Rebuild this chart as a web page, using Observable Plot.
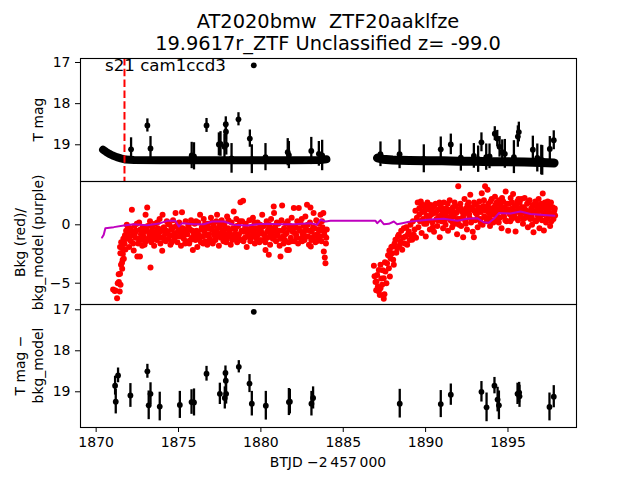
<!DOCTYPE html>
<html><head><meta charset="utf-8">
<script src="https://cdn.jsdelivr.net/npm/d3@7"></script>
<script src="https://cdn.jsdelivr.net/npm/@observablehq/plot@0.6"></script>
<style>
body{margin:0;background:#fff;}
#wrap{position:relative;width:640px;height:480px;overflow:hidden;font-family:"DejaVu Sans",sans-serif;color:#000;background:#fff;}
#wrap svg{position:absolute;left:0;top:0;}
</style></head><body><div id="wrap"></div>
<script>
// ---------- text ----------
const titleLines = ["AT2020bmw  ZTF20aaklfze", "19.9617r_ZTF Unclassified z= -99.0"];
const annotation = "s21 cam1ccd3";
const yLabel1 = ["T mag"];
const yLabel2 = ["Bkg (red)/", "bkg_model (purple)"];
const yLabel3 = ["T mag \u2212", "bkg_model"];
const xLabel = "BTJD \u22122\u2009457\u2009000";
const xTicks = [1870, 1875, 1880, 1885, 1890, 1895];
const magTicks = [17, 18, 19];
const bkgTicks = [-5, 0];
const refTime = [1871.72];

// ---------- panel 1: light curve (dense band of non-detections + points) ----------
const band1 = [[1870.42,19.12],[1870.6,19.17],[1870.8,19.22],[1871.0,19.26],[1871.25,19.3],[1871.5,19.33],[1871.8,19.36],[1872.3,19.37],[1874,19.375],[1876,19.375],[1878,19.375],[1880,19.375],[1882,19.375],[1883.6,19.37],[1883.98,19.35]];
const band2 = [[1887.08,19.32],[1887.4,19.35],[1888,19.37],[1889,19.38],[1890,19.39],[1891,19.39],[1892,19.4],[1893,19.4],[1894,19.41],[1895,19.41],[1896,19.42],[1897,19.43],[1897.8,19.44]];
// [time, mag, err]
const lcPoints = [
[1872.12,19.11,0.28],[1873.11,18.53,0.16],[1873.30,19.09,0.29],[1875.80,19.26,0.32],[1875.94,19.28,0.33],
[1876.70,18.53,0.17],[1877.45,18.99,0.28],[1877.55,18.98,0.30],[1877.79,19.05,0.30],[1877.87,18.50,0.18],
[1877.88,18.68,0.20],[1877.90,19.00,0.25],[1878.22,19.33,0.36],[1878.64,18.38,0.16],[1879.33,18.85,0.21],
[1879.45,19.35,0.35],[1879.57,17.07,0.03],[1880.28,19.30,0.33],[1881.63,19.18,0.33],[1881.70,19.25,0.33],
[1883.06,19.15,0.33],[1883.52,19.22,0.30],[1883.72,19.26,0.37],[1887.26,19.23,0.30],[1888.42,19.23,0.35],
[1889.89,19.34,0.34],[1890.92,19.11,0.30],[1891.53,18.99,0.25],[1892.14,19.31,0.33],[1892.93,19.27,0.30],
[1893.19,19.35,0.32],[1893.39,18.94,0.23],[1893.68,19.30,0.32],[1893.88,19.28,0.30],[1894.20,18.73,0.17],
[1894.35,18.85,0.20],[1894.49,19.05,0.25],[1894.65,19.18,0.30],[1894.81,19.22,0.35],[1895.36,19.30,0.40],
[1895.60,18.80,0.26],[1895.66,18.69,0.24],[1896.51,19.12,0.33],[1896.78,19.32,0.34],[1897.02,19.37,0.36],
[1897.08,19.38,0.36],[1897.54,19.10,0.30],[1897.78,18.89,0.23]
];

// ---------- panel 3: T mag - bkg_model ----------
const diffPoints = [
[1871.15,18.85,0.23],[1871.19,19.24,0.30],[1871.33,18.60,0.18],[1872.08,19.09,0.29],[1873.11,18.50,0.17],
[1873.19,19.33,0.35],[1873.30,19.05,0.27],[1873.86,19.36,0.35],[1875.08,19.32,0.33],[1875.79,19.25,0.30],
[1875.94,19.26,0.33],[1876.70,18.56,0.18],[1877.51,19.05,0.26],[1877.81,19.15,0.27],[1877.85,18.54,0.17],
[1877.87,18.73,0.20],[1877.89,19.05,0.25],[1878.66,18.39,0.15],[1879.31,18.80,0.22],[1879.45,19.29,0.30],
[1879.57,17.05,0.03],[1880.30,19.34,0.35],[1881.70,19.25,0.33],[1881.76,19.24,0.30],[1883.07,19.29,0.30],
[1883.17,19.15,0.27],[1888.43,19.29,0.35],[1890.92,19.30,0.33],[1891.53,19.07,0.26],[1893.39,19.00,0.25],
[1893.70,19.38,0.35],[1894.18,18.85,0.20],[1894.37,19.19,0.30],[1894.45,19.33,0.35],[1895.58,19.05,0.26],
[1895.68,19.02,0.25],[1895.70,19.11,0.27],[1897.52,19.37,0.34],[1897.78,19.12,0.27]
];

// ---------- panel 2: background (red) ----------
const bkgRise1 = [[1871.03,-5.55],[1871.13,-5.66],[1871.17,-5.63],[1871.27,-6.29],[1871.31,-5.0],[1871.37,-4.23],[1871.38,-4.9],[1871.43,-5.72],[1871.45,-4.2],[1871.47,-2.43],[1871.48,-5.14],[1871.45,-1.9],[1871.51,-3.43],[1871.52,-1.5],[1871.57,-3.26],[1871.58,-3.77],[1871.59,-2.0],[1871.61,-3.0],[1871.62,-2.49],[1871.65,-1.2],[1871.68,-2.91],[1871.70,-1.57],[1871.72,-1.63],[1871.75,-0.9],[1871.78,-2.12],[1871.82,-0.5],[1871.86,0.0],[1871.98,-1.06]];
const bkgOrbit1 = [
[1871.90,-1.2],[1871.95,-0.6],[1872.00,-1.9],[1872.06,-0.3],[1872.11,-1.4],[1872.17,1.28],[1872.22,-0.9],[1872.28,-2.2],[1872.33,-0.1],[1872.39,-1.1],
[1872.44,-0.5],[1872.50,-2.72],[1872.55,-1.6],[1872.61,0.2],[1872.66,-2.72],[1872.72,-0.8],[1872.77,-1.3],[1872.83,-0.2],[1872.88,-1.0],[1872.94,-1.7],
[1873.00,0.86],[1873.05,-0.4],[1873.10,1.48],[1873.16,-1.2],[1873.21,-0.7],[1873.27,0.3],[1873.30,-3.66],[1873.35,-1.5],[1873.41,-0.2],[1873.46,-0.9],
[1873.52,-1.8],[1873.57,0.1],[1873.63,-0.6],[1873.68,-1.3],[1873.74,-0.3],[1873.79,-1.0],[1873.85,0.5],[1873.90,-1.6],[1873.96,-0.5],[1874.01,-2.23],
[1874.03,0.86],[1874.07,-1.1],[1874.12,-0.2],[1874.18,-0.8],[1874.23,-1.4],[1874.29,0.3],[1874.34,-0.6],[1874.40,-1.2],[1874.45,0.0],[1874.51,-1.7],
[1874.56,-0.4],[1874.62,-0.9],[1874.67,0.4],[1874.73,-1.3],[1874.78,-0.7],[1874.82,1.0],[1874.88,-0.1],[1874.93,-1.5],[1874.99,-0.5],[1875.04,0.2],
[1875.10,-1.0],[1875.15,-1.8],[1875.21,1.08],[1875.26,-0.3],[1875.32,-1.2],[1875.37,-0.6],[1875.43,0.3],[1875.48,-1.4],[1875.54,-0.8],[1875.59,-0.1],
[1875.65,-1.6],[1875.70,-0.4],[1875.76,0.4],[1875.81,-1.1],[1875.87,-2.15],[1875.92,-0.7],[1875.98,0.1],[1876.03,-1.3],[1876.09,-0.5],[1876.14,-1.9],
[1876.20,0.2],[1876.25,-0.9],[1876.31,0.86],[1876.36,-1.5],[1876.42,-0.2],[1876.47,-1.0],[1876.53,0.5],[1876.58,-0.6],[1876.64,-1.4],[1876.69,-0.3],
[1876.75,-1.7],[1876.80,0.1],[1876.86,-0.8],[1876.91,-1.2],[1876.97,0.6],[1877.02,-0.4],[1877.08,-1.6],[1877.13,-0.1],[1877.19,-0.9],[1877.24,-1.3],
[1877.30,0.3],[1877.34,0.86],[1877.40,-0.7],[1877.45,-1.8],[1877.51,-0.2],[1877.56,-1.1],[1877.62,0.4],[1877.67,-0.5],[1877.73,-1.4],[1877.78,0.0],
[1877.84,-0.8],[1877.89,-1.5],[1877.95,0.7],[1878.00,-0.3],[1878.06,-1.0],[1878.11,-0.6],[1878.17,-1.7],[1878.22,0.2],[1878.28,-0.9],[1878.35,1.14],
[1878.40,-1.2],[1878.45,-0.4],[1878.51,0.5],[1878.56,-1.5],[1878.62,-0.1],[1878.67,-0.8],[1878.76,1.94],[1878.80,-1.3],[1878.86,0.3],[1878.92,2.05],
[1878.97,-0.6],[1879.03,-1.1],[1879.08,0.1],[1879.14,-1.9],[1879.19,-0.5],[1879.25,-0.9],[1879.30,0.4],[1879.36,-1.4],[1879.41,-0.2],[1879.47,-1.0],
[1879.52,0.6],[1879.58,-0.7],[1879.63,-1.6],[1879.69,-0.3],[1879.74,-1.2],[1879.80,0.2],[1879.85,-0.8],[1879.91,-1.5],[1879.96,0.0],[1880.02,-0.6],
[1880.08,0.86],[1880.13,-1.3],[1880.19,-0.1],[1880.24,-0.9],[1880.28,-2.15],[1880.35,0.3],[1880.40,-1.1],[1880.46,-0.4],[1880.48,-2.57],[1880.56,-1.7],
[1880.62,0.5],[1880.67,-0.7],[1880.73,-1.2],[1880.78,1.57],[1880.80,1.0],[1880.86,-0.2],[1880.92,-1.4],[1880.97,0.2],[1881.03,-0.9],[1881.08,-0.5],
[1881.14,-1.8],[1881.19,-2.72],[1881.25,0.4],[1881.29,1.66],[1881.35,-1.0],[1881.41,-0.3],[1881.46,-1.3],[1881.52,0.1],[1881.57,-0.7],[1881.60,-2.15],
[1881.68,-1.5],[1881.70,-2.15],[1881.76,-0.1],[1881.82,-1.1],[1881.87,0.6],[1881.93,-0.6],[1882.00,1.43],[1882.04,-1.4],[1882.10,-0.2],[1882.15,-0.9],
[1882.21,0.3],[1882.26,-1.6],[1882.30,1.43],[1882.37,-0.5],[1882.43,-1.2],[1882.48,0.5],[1882.54,-0.8],[1882.59,-0.1],[1882.65,-1.3],[1882.70,0.7],
[1882.76,-0.4],[1882.80,1.71],[1882.87,-1.0],[1882.92,-1.7],[1882.98,0.2],[1883.01,1.48],[1883.03,-1.86],[1883.09,-0.6],[1883.14,-1.1],[1883.20,1.0],
[1883.25,-0.3],[1883.31,-1.5],[1883.36,0.4],[1883.42,-0.8],[1883.47,-1.2],[1883.53,0.1],[1883.58,-0.5],[1883.62,0.86],[1883.68,-1.4],[1883.74,-0.2],
[1883.79,1.0],[1883.82,-2.29],[1883.86,-0.9],[1883.88,-2.8],[1883.92,-3.29],[1883.95,-1.6],[1884.00,-0.4]
];
const bkgOrbit1b = [
[1871.93,-0.2],[1872.04,-1.0],[1872.14,-0.5],[1872.25,-1.6],[1872.36,-0.7],[1872.47,0.1],[1872.58,-1.2],[1872.69,-0.4],[1872.80,-1.8],[1872.91,-0.6],
[1873.03,-1.4],[1873.13,-0.1],[1873.24,-1.0],[1873.38,-0.5],[1873.49,-1.2],[1873.60,-0.9],[1873.71,0.2],[1873.82,-0.7],[1873.93,-1.1],[1874.05,-0.3],
[1874.15,-1.3],[1874.26,-0.5],[1874.37,0.1],[1874.48,-0.9],[1874.59,-1.5],[1874.70,-0.2],[1874.85,-1.0],[1874.96,0.1],[1875.07,-0.6],[1875.18,-0.3],
[1875.29,-0.9],[1875.40,-1.6],[1875.51,-0.4],[1875.62,0.0],[1875.73,-1.3],[1875.84,-0.5],[1875.95,-1.0],[1876.06,0.3],[1876.17,-0.7],[1876.28,-1.2],
[1876.39,-0.4],[1876.50,-1.6],[1876.61,0.1],[1876.72,-0.9],[1876.83,-0.3],[1876.94,-1.4],[1877.05,0.2],[1877.16,-0.6],[1877.27,-1.0],[1877.37,-0.3],
[1877.48,0.1],[1877.59,-0.8],[1877.70,-1.1],[1877.81,-0.4],[1877.92,-1.2],[1878.03,0.4],[1878.14,-0.9],[1878.25,-1.3],[1878.31,-0.3],[1878.43,-0.8],
[1878.54,-0.1],[1878.65,-1.1],[1878.72,0.3],[1878.83,-0.5],[1878.94,-1.4],[1879.05,-0.2],[1879.17,-1.0],[1879.28,-0.4],[1879.39,-1.2],[1879.50,-0.6],
[1879.61,0.2],[1879.72,-0.9],[1879.83,-0.4],[1879.94,-1.3],[1880.05,-0.2],[1880.16,-0.8],[1880.27,-1.5],[1880.38,-0.6],[1880.51,0.0],[1880.60,-0.9],
[1880.70,-0.3],[1880.83,-1.0],[1880.95,-0.6],[1881.06,0.1],[1881.17,-1.2],[1881.27,-0.5],[1881.38,-1.6],[1881.49,-0.8],[1881.63,0.3],[1881.73,-0.4],
[1881.85,-1.4],[1881.96,-0.2],[1882.07,-0.7],[1882.18,-1.1],[1882.29,-0.3],[1882.40,0.2],[1882.51,-1.4],[1882.62,-0.6],[1882.73,-1.0],[1882.84,0.0],
[1882.95,-0.5],[1883.06,-1.3],[1883.17,-0.2],[1883.28,-0.9],[1883.39,-1.4],[1883.50,-0.4],[1883.61,-1.0],[1883.71,0.3],[1883.84,-0.6],[1883.97,-1.1]
];
const bkgRise2 = [
[1886.86,-3.5],[1886.90,-4.4],[1886.96,-4.9],[1887.00,-5.6],[1887.02,-4.86],[1887.06,-4.29],[1887.10,-5.3],[1887.16,-5.71],[1887.16,-3.86],[1887.22,-6.0],
[1887.26,-3.43],[1887.26,-5.43],[1887.31,-4.6],[1887.36,-5.14],[1887.40,-3.9],[1887.46,-6.34],[1887.46,-4.57],[1887.50,-5.94],[1887.53,-3.2],[1887.56,-4.0],
[1887.62,-5.0],[1887.66,-3.29],[1887.72,-2.6],[1887.77,-3.71],[1887.80,-2.2],[1887.83,-4.43],[1887.87,-2.86],[1887.92,-1.9],[1887.97,-2.43],[1887.99,-1.86],
[1888.03,-3.0],[1888.07,-3.43],[1888.12,-1.6],[1888.17,-1.29],[1888.22,-2.4],[1888.27,-2.0],[1888.32,-1.0],[1888.37,-0.86],[1888.42,-1.8],[1888.47,-1.43],
[1888.52,-0.5],[1888.58,-2.14],[1888.63,-1.1],[1888.68,-0.29],[1888.73,-1.6],[1888.78,-1.0],[1888.83,-0.2],[1888.88,-1.71],[1888.93,-0.8],[1888.98,-0.57],
[1889.03,-1.3],[1889.08,0.0],[1889.13,-0.9],[1889.18,-1.29],[1889.23,0.3],[1889.28,-0.86],[1889.33,-0.4],[1889.38,1.2],[1889.42,-1.1],[1889.47,0.6],
[1889.52,1.9],[1889.56,-0.2]
];
const bkgOrbit2 = [
[1889.61,1.4],[1889.66,0.3],[1889.71,2.0],[1889.76,-0.7],[1889.81,1.1],[1889.86,1.7],[1889.91,0.1],[1889.96,1.5],[1890.01,-1.0],[1890.06,0.8],
[1890.11,1.9],[1890.16,0.4],[1890.21,1.3],[1890.26,-0.4],[1890.31,1.7],[1890.36,0.9],[1890.41,0.2],[1890.46,1.5],[1890.51,-0.6],[1890.56,1.0],
[1890.61,1.8],[1890.66,0.5],[1890.71,-0.1],[1890.76,1.3],[1890.81,0.7],[1890.86,-1.06],[1890.91,1.6],[1890.96,0.3],[1891.01,1.1],[1891.06,-0.3],
[1891.11,1.9],[1891.16,0.8],[1891.21,0.0],[1891.26,1.4],[1891.31,0.6],[1891.36,-0.5],[1891.41,1.2],[1891.46,2.1],[1891.51,0.4],[1891.56,0.9],
[1891.61,-0.2],[1891.66,1.5],[1891.71,0.7],[1891.76,1.9],[1891.81,0.1],[1891.86,1.0],[1891.91,-0.8],[1891.98,3.3],[1892.01,1.3],[1892.06,0.5],
[1892.11,1.8],[1892.16,-0.1],[1892.21,1.1],[1892.28,-1.06],[1892.31,0.8],[1892.36,2.2],[1892.41,0.3],[1892.46,1.4],[1892.51,-0.4],[1892.56,1.0],
[1892.61,1.9],[1892.66,0.6],[1892.71,2.57],[1892.76,0.2],[1892.81,1.5],[1892.86,-0.6],[1892.93,-1.06],[1892.96,1.2],[1893.01,0.4],[1893.06,1.7],
[1893.11,0.9],[1893.16,-0.2],[1893.21,1.3],[1893.26,2.0],[1893.31,0.5],[1893.36,1.1],[1893.41,2.71],[1893.46,0.0],[1893.51,1.6],[1893.56,0.7],
[1893.61,3.3],[1893.66,1.2],[1893.71,0.3],[1893.76,3.0],[1893.81,1.8],[1893.86,0.6],[1893.91,-0.1],[1893.96,1.4],[1894.01,2.2],[1894.06,0.9],
[1894.11,0.2],[1894.16,1.5],[1894.21,2.4],[1894.26,0.8],[1894.31,1.9],[1894.36,0.4],[1894.41,1.3],[1894.46,2.1],[1894.51,0.6],[1894.56,1.7],
[1894.61,-0.3],[1894.66,1.1],[1894.71,2.0],[1894.76,0.7],[1894.81,1.5],[1894.86,2.86],[1894.91,0.3],[1894.96,1.2],[1895.01,-0.51],[1895.06,1.8],
[1895.11,0.9],[1895.16,2.3],[1895.21,0.5],[1895.26,1.4],[1895.31,2.63],[1895.36,0.8],[1895.41,1.6],[1895.46,-0.57],[1895.51,1.1],[1895.56,2.0],
[1895.61,0.4],[1895.66,1.3],[1895.71,1.9],[1895.76,0.7],[1895.81,2.2],[1895.86,1.0],[1895.91,0.1],[1895.96,1.5],[1896.01,2.3],[1896.06,0.6],
[1896.11,1.2],[1896.16,1.8],[1896.21,-0.2],[1896.26,1.0],[1896.31,2.1],[1896.36,0.5],[1896.41,1.4],[1896.46,0.0],[1896.51,1.7],[1896.55,-0.63],
[1896.61,1.1],[1896.66,2.0],[1896.71,0.3],[1896.76,1.5],[1896.81,0.8],[1896.86,2.2],[1896.91,-0.3],[1896.96,1.2],[1897.01,1.8],[1897.06,0.4],
[1897.11,2.67],[1897.18,-0.49],[1897.21,1.0],[1897.26,1.6],[1897.31,0.2],[1897.36,1.3],[1897.41,2.0],[1897.46,0.7],[1897.51,1.4],[1897.56,-0.1],
[1897.61,1.9],[1897.66,0.9],[1897.71,1.5],[1897.76,0.5],[1897.81,1.2],[1897.86,0.8]
];
const bkgOrbit2b = [
[1889.63,0.9],[1889.74,1.6],[1889.84,0.5],[1889.94,1.2],[1890.04,0.1],[1890.14,1.5],[1890.24,0.7],[1890.34,1.2],[1890.44,-0.2],[1890.54,1.7],
[1890.64,1.1],[1890.74,0.4],[1890.84,1.9],[1890.94,0.8],[1891.04,1.4],[1891.14,0.3],[1891.24,1.0],[1891.34,1.8],[1891.44,0.6],[1891.54,1.3],
[1891.64,0.2],[1891.74,1.1],[1891.84,1.6],[1891.94,0.5],[1892.04,0.0],[1892.14,1.4],[1892.24,0.6],[1892.34,1.2],[1892.44,0.1],[1892.54,1.7],
[1892.64,0.9],[1892.74,1.3],[1892.84,0.4],[1892.94,1.9],[1893.04,1.0],[1893.14,0.5],[1893.24,1.5],[1893.34,0.2],[1893.44,1.3],[1893.54,2.1],
[1893.64,0.6],[1893.74,1.4],[1893.84,1.0],[1893.94,2.0],[1894.04,0.4],[1894.14,1.2],[1894.24,1.7],[1894.34,1.0],[1894.44,0.2],[1894.54,1.4],
[1894.64,2.3],[1894.74,1.0],[1894.84,0.4],[1894.94,1.8],[1895.04,1.3],[1895.14,0.3],[1895.24,1.9],[1895.34,1.2],[1895.44,0.6],[1895.54,1.6],
[1895.64,2.2],[1895.74,1.0],[1895.84,1.5],[1895.94,0.5],[1896.04,1.3],[1896.14,0.8],[1896.24,1.9],[1896.34,1.1],[1896.44,0.7],[1896.54,1.6],
[1896.64,0.4],[1896.74,1.2],[1896.84,1.7],[1896.94,0.6],[1897.04,1.4],[1897.14,0.9],[1897.24,1.9],[1897.34,0.5],[1897.44,1.1],[1897.54,1.7],
[1897.64,0.3],[1897.74,1.0],[1897.84,1.4]
];
// background model (purple)
const bkgModel = [
[1870.36,-1.09],[1870.46,-0.86],[1870.56,-0.29],[1871.07,-0.2],[1871.68,-0.06],[1872.28,0.05],[1873.1,-0.03],[1873.9,0.14],[1874.31,0.34],[1874.81,0.34],
[1875.02,-0.15],[1875.22,0.14],[1875.93,0.05],[1876.53,0.05],[1877.04,0.28],[1877.75,0.28],[1878.35,0.0],[1879.17,-0.06],[1879.78,0.05],[1880.38,0.08],
[1881.19,0.05],[1882.0,0.05],[1883.01,0.14],[1883.42,0.0],[1883.62,0.43],[1883.92,0.28],[1884.23,0.34],[1886.96,0.34],[1887.06,0.14],[1887.26,0.4],
[1887.46,0.05],[1887.77,0.08],[1888.07,0.28],[1888.27,0.05],[1888.58,0.14],[1889.08,0.28],[1889.69,0.37],[1890.3,0.46],[1891.1,0.51],[1891.92,0.34],
[1892.53,0.51],[1893.13,0.57],[1893.53,0.22],[1893.84,0.17],[1894.14,0.51],[1894.45,1.0],[1895.16,0.97],[1895.76,1.14],[1896.37,0.92],[1896.97,0.86],
[1897.82,0.77]
];

// ---------- drawing ----------
const W = 640, H = 480;
const xDomain = [1869.05, 1899.16];
const font = '"DejaVu Sans", sans-serif';
const style = {fontFamily: font, fontSize: "14px", overflow: "visible", background: "transparent", color: "black"};
const wrap = document.getElementById("wrap");

function errorMarks(rows) {
  return [
    Plot.ruleX(rows, {x: d => d[0], y1: d => d[1] - d[2], y2: d => d[1] + d[2], stroke: "black", strokeWidth: 2.3}),
    Plot.dot(rows, {x: d => d[0], y: d => d[1], r: 2.9, fill: "black", stroke: "none"})
  ];
}
const yAxis = ticks => Plot.axisY({ticks, tickSize: 5, tickPadding: 5, label: null, fontSize: 14, tickFormat: d3.format("")});

// panel 1
wrap.appendChild(Plot.plot({
  width: W, height: H, marginLeft: 80, marginRight: 64, marginTop: 58, marginBottom: H - 181,
  x: {domain: xDomain, axis: null},
  y: {domain: [16.903, 19.892], reverse: true},
  style,
  marks: [
    Plot.line(band1, {x: d => d[0], y: d => d[1], stroke: "black", strokeWidth: 8, strokeLinecap: "round", strokeLinejoin: "round"}),
    Plot.line(band2, {x: d => d[0], y: d => d[1], stroke: "black", strokeWidth: 9, strokeLinecap: "round", strokeLinejoin: "round"}),
    ...errorMarks(lcPoints),
    Plot.ruleX(refTime, {x: d => d, stroke: "red", strokeWidth: 2, strokeDasharray: "7.5,3.3"}),
    yAxis(magTicks),
    Plot.frame({stroke: "black", strokeWidth: 1.1})
  ]
}));

// panel 2
const bkgAll = [...bkgRise1, ...bkgOrbit1, ...bkgOrbit1b, ...bkgRise2, ...bkgOrbit2, ...bkgOrbit2b];
wrap.appendChild(Plot.plot({
  width: W, height: H, marginLeft: 80, marginRight: 64, marginTop: 181, marginBottom: H - 304,
  x: {domain: xDomain, axis: null},
  y: {domain: [-6.824, 3.707]},
  style,
  marks: [
    Plot.dot(bkgAll, {x: d => d[0], y: d => d[1], r: 3, fill: "red", stroke: "none"}),
    Plot.line(bkgModel, {x: d => d[0], y: d => d[1], stroke: "#bf00bf", strokeWidth: 2}),
    yAxis(bkgTicks),
    Plot.frame({stroke: "black", strokeWidth: 1.1})
  ]
}));

// panel 3
wrap.appendChild(Plot.plot({
  width: W, height: H, marginLeft: 80, marginRight: 64, marginTop: 304, marginBottom: H - 427,
  x: {domain: xDomain},
  y: {domain: [16.871, 19.871], reverse: true},
  style,
  marks: [
    ...errorMarks(diffPoints),
    yAxis(magTicks),
    Plot.axisX({ticks: xTicks, tickSize: 5, tickPadding: 5, label: null, fontSize: 14, tickFormat: d => String(d)}),
    Plot.frame({stroke: "black", strokeWidth: 1.1})
  ]
}));

// text overlay: titles, annotation, axis labels
const ov = d3.select(wrap).append("svg").attr("width", W).attr("height", H)
  .style("font-family", font).style("overflow", "visible");
ov.selectAll("text.title").data(titleLines).join("text")
  .attr("x", 328).attr("y", (d, i) => 27.5 + i * 22.5)
  .attr("text-anchor", "middle").attr("font-size", 19.4).style("white-space", "pre").text(d => d);
ov.append("text").attr("x", 105).attr("y", 71).attr("font-size", 16.67).text(annotation);
ov.append("text").attr("x", 328).attr("y", 467).attr("text-anchor", "middle").attr("font-size", 13.9).text(xLabel);
function yLabel(lines, cy) {
  const n = lines.length;
  lines.forEach((s, i) => {
    const bx = 42.5 - (n - 1 - i) * 17.2;
    ov.append("text").attr("transform", `translate(${bx},${cy}) rotate(-90)`)
      .attr("text-anchor", "middle").attr("font-size", 13.9).text(s);
  });
}
yLabel(yLabel1, 119.5);
yLabel(yLabel2, 242.5);
yLabel(yLabel3, 365.5);
</script></body></html>
